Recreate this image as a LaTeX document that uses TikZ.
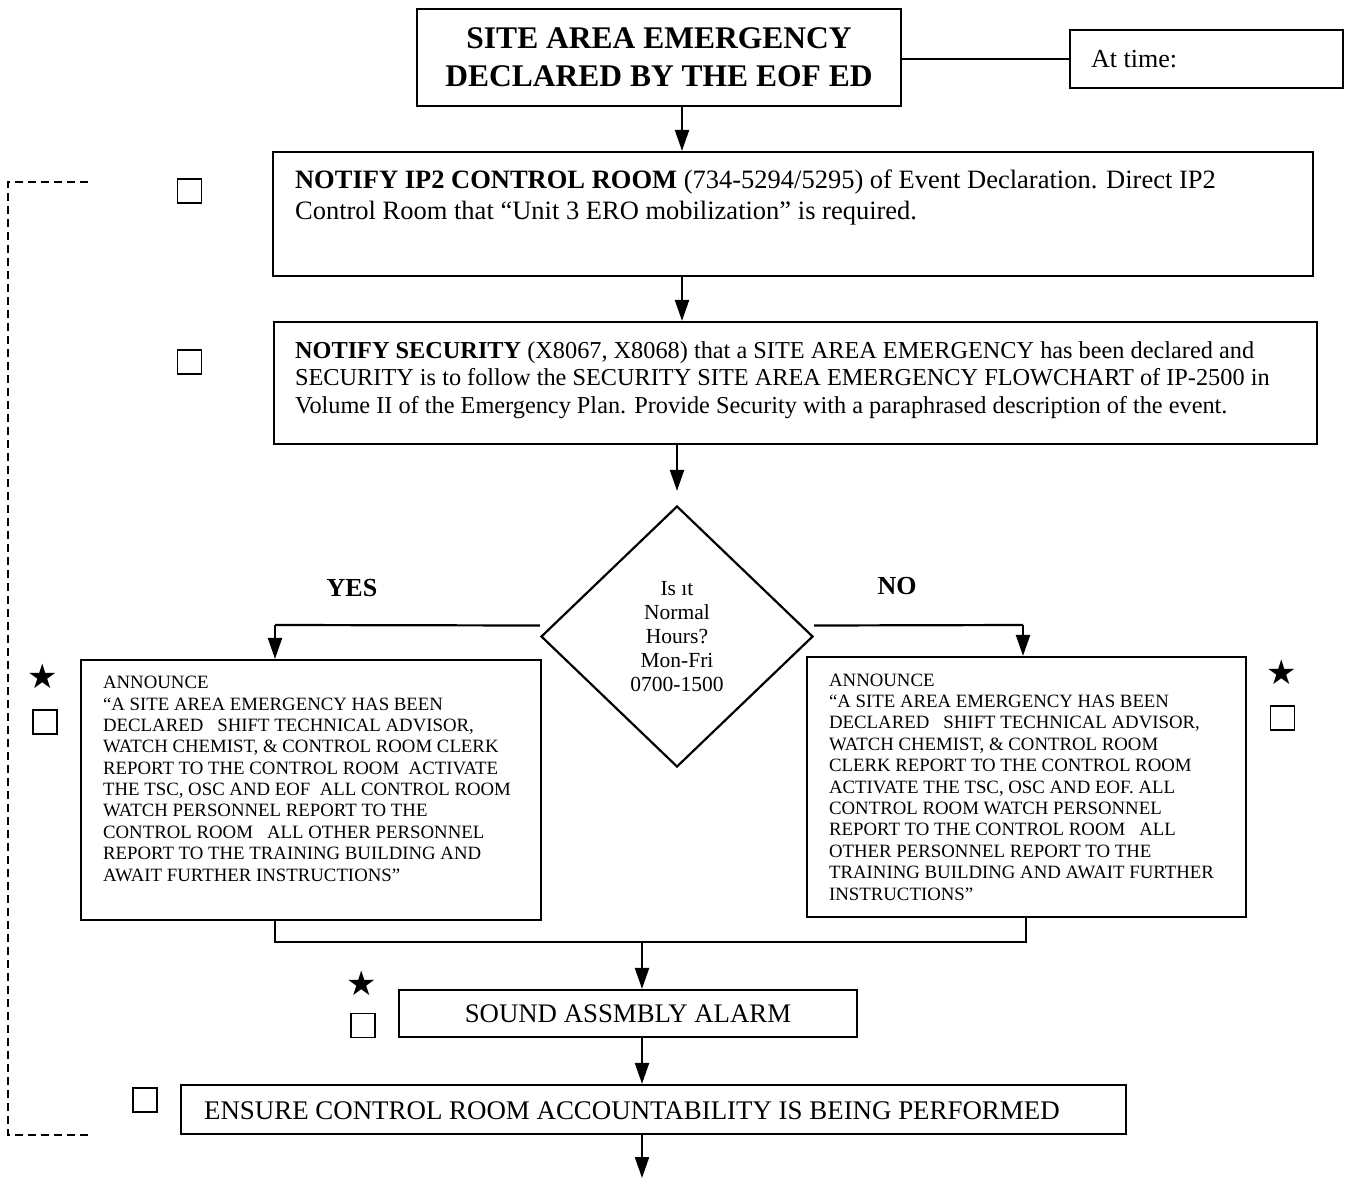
\documentclass[tikz,border=0pt]{standalone}
\usepackage{fontspec}
\setmainfont{Liberation Serif}
\newfontfamily\symfont{DejaVu Sans}
\usetikzlibrary{arrows.meta,shapes.geometric,calc}
\begin{document}
\begin{tikzpicture}[x=1pt,y=-1pt,line width=2.2pt,
  box/.style={draw,rectangle,inner sep=0pt,line width=2.2pt},
  chk/.style={draw,rectangle,minimum size=24pt,inner sep=0pt,line width=1.8pt},
  arr/.style={-{Triangle[length=21pt,width=14pt]},line width=2.2pt},
  txt/.style={inner sep=0pt,align=left,anchor=base west},
  starmark/.style={inner sep=0pt,font=\symfont\fontsize{34}{34}\selectfont},
  lbl/.style={inner sep=0pt,font=\bfseries\fontsize{26}{30}\selectfont}]
\useasboundingbox (0,0) rectangle (1346,1180);
\fill[white] (0,0) rectangle (1346,1180);

% top
\node[box,minimum width=484pt,minimum height=97pt,align=center,
      font=\bfseries\fontsize{31.5}{38}\selectfont] (title) at (659,57.5)
      {SITE AREA EMERGENCY\\DECLARED BY THE EOF ED};
\node[box,minimum width=273pt,minimum height=58pt] (attime) at (1206.5,59) {};
\node[txt,font=\fontsize{26}{30}\selectfont] (attimetxt) at (1090,68) {At time:};
\draw (title.east |- attime.west) -- (attime.west);

% notify IP2
\node[box,minimum width=1040pt,minimum height=124pt] (notify) at (793,214) {};
\node[txt,font=\fontsize{26.5}{31}\selectfont] (notifytxt) at (294,219)
  {\textbf{NOTIFY IP2 CONTROL ROOM} (734-5294/5295) of Event Declaration. Direct IP2\\
   Control Room that “Unit 3 ERO mobilization” is required.};
\node[chk] (c1) at (189.5,191) {};
\coordinate (ax) at (682,0);
\draw[arr] (title.south -| ax) -- (notify.north -| ax);

% security
\node[box,minimum width=1043pt,minimum height=122pt] (security) at (795.5,383) {};
\node[txt,font=\fontsize{24.3}{27.5}\selectfont] (securitytxt) at (294,413)
  {\textbf{NOTIFY SECURITY} (X8067, X8068) that a SITE AREA EMERGENCY has been declared and\\
   SECURITY is to follow the SECURITY SITE AREA EMERGENCY FLOWCHART of IP-2500 in\\
   Volume II of the Emergency Plan. Provide Security with a paraphrased description of the event.};
\node[chk] (c2) at (189.5,362) {};
\draw[arr] (notify.south -| ax) -- (security.north -| ax);

% decision
\node[draw,diamond,minimum width=272pt,minimum height=261pt,inner sep=0pt,align=center,
      font=\fontsize{21.5}{24}\selectfont] (dia) at (677,636.5)
      {Is ıt\\Normal\\Hours?\\Mon-Fri\\0700-1500};
\draw[arr,shorten >=14pt] (security.south -| dia.north) -- (dia.north);
\node[lbl] (yes) at (352,588) {YES};
\node[lbl] (no) at (897,586) {NO};

% announce boxes
\node[box,minimum width=460pt,minimum height=260pt] (lbox) at (311,790) {};
\node[txt,font=\fontsize{18.8}{21.35}\selectfont] (ltxt) at (102,881)
  {ANNOUNCE\\
   “A SITE AREA EMERGENCY HAS BEEN\\
   DECLARED\ \ \ SHIFT TECHNICAL ADVISOR,\\
   WATCH CHEMIST, \& CONTROL ROOM CLERK\\
   REPORT TO THE CONTROL ROOM\ \ ACTIVATE\\
   THE TSC, OSC AND EOF\ \ ALL CONTROL ROOM\\
   WATCH PERSONNEL REPORT TO THE\\
   CONTROL ROOM\ \ \ ALL OTHER PERSONNEL\\
   REPORT TO THE TRAINING BUILDING AND\\
   AWAIT FURTHER INSTRUCTIONS”};
\node[box,minimum width=439pt,minimum height=260pt] (rbox) at (1026.5,787) {};
\node[txt,font=\fontsize{18.8}{21.4}\selectfont] (rtxt) at (828,900)
  {ANNOUNCE\\
   “A SITE AREA EMERGENCY HAS BEEN\\
   DECLARED\ \ \ SHIFT TECHNICAL ADVISOR,\\
   WATCH CHEMIST, \& CONTROL ROOM\\
   CLERK REPORT TO THE CONTROL ROOM\\
   ACTIVATE THE TSC, OSC AND EOF. ALL\\
   CONTROL ROOM WATCH PERSONNEL\\
   REPORT TO THE CONTROL ROOM\ \ \ ALL\\
   OTHER PERSONNEL REPORT TO THE\\
   TRAINING BUILDING AND AWAIT FURTHER\\
   INSTRUCTIONS”};
\node[starmark] (s1) at (43,676) {★};
\node[chk] (c3) at (45,722) {};
\node[starmark] (s2) at (1282,672) {★};
\node[chk] (c4) at (1282.5,718) {};

\coordinate (yl) at (275,625);
\coordinate (yr) at (1023,625);
\draw ([yshift=11pt]dia.west) -- (yl);
\draw[arr] (yl) -- (yl |- lbox.north);
\draw ([yshift=11pt]dia.east) -- (yr);
\draw[arr] (yr) -- (yr |- rbox.north);

% merge
\coordinate (ml) at (275,942);
\coordinate (mr) at (1026,942);
\coordinate (mc) at (642,942);
\draw (ml |- lbox.south) -- (ml) -- (mr) -- (mr |- rbox.south);

% sound alarm
\node[box,minimum width=458pt,minimum height=47pt,font=\fontsize{26.8}{30}\selectfont] (sound) at (628,1013.5)
  {SOUND ASSMBLY ALARM};
\node[starmark] (s3) at (362,983) {★};
\node[chk] (c5) at (363,1025.5) {};
\draw[arr] (mc) -- (mc |- sound.north);

% ensure
\node[box,minimum width=945pt,minimum height=49pt] (ensure) at (653.5,1109.5) {};
\node[txt,font=\fontsize{26.9}{30}\selectfont] (ensuretxt) at (203,1119)
  {ENSURE CONTROL ROOM ACCOUNTABILITY IS BEING PERFORMED};
\node[chk] (c6) at (145,1100) {};
\draw[arr] (mc |- sound.south) -- (mc |- ensure.north);
\coordinate (endp) at (642,1178);
\draw[arr] (mc |- ensure.south) -- (endp);

% dashed return line
\coordinate (d1) at (88,182);
\coordinate (d2) at (8,182);
\coordinate (d3) at (8,1135);
\coordinate (d4) at (88,1135);
\draw[line width=1.6pt,dash pattern=on 8pt off 5pt] (d1) -- (d2) -- (d3) -- (d4);
\end{tikzpicture}
\end{document}
